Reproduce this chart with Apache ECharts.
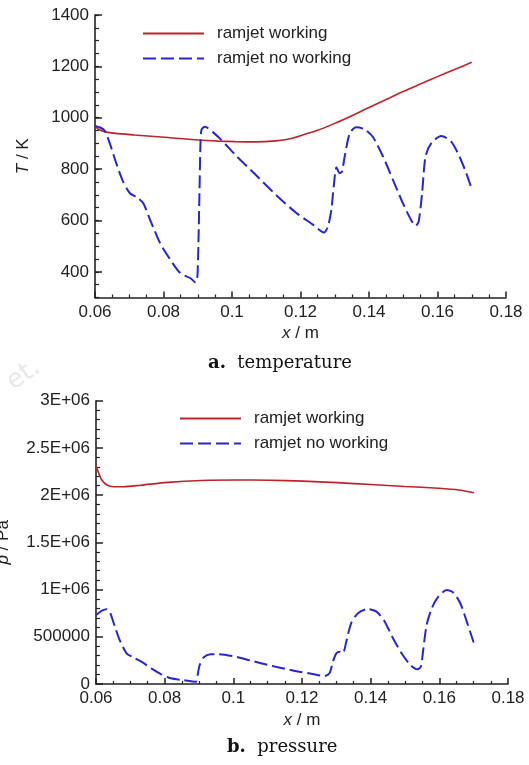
<!DOCTYPE html>
<html><head><meta charset="utf-8">
<script src="https://cdn.jsdelivr.net/npm/echarts@6/dist/echarts.min.js"></script>
<style>html,body{margin:0;padding:0;background:#fff}#c{width:529px;height:765px}</style>
</head><body><div id="c"></div>
<script>
// ---- data ----
const seriesNames = ['ramjet working', 'ramjet no working'];
const tempTicks = [400, 600, 800, 1000, 1200, 1400];
const presTicks = [0, 500000, 1000000, 1500000, 2000000, 2500000, 3000000];
const presTickLabels = ['0', '500000', '1E+06', '1.5E+06', '2E+06', '2.5E+06', '3E+06'];

const tempWorking = [
  [0.0600, 968], [0.0610, 955], [0.0630, 945], [0.0660, 939], [0.0715, 933], [0.0813, 923],
  [0.0902, 913], [0.0960, 909], [0.1010, 907], [0.1069, 906], [0.1128, 910], [0.1170, 918],
  [0.1200, 930], [0.1250, 951], [0.1300, 978], [0.1350, 1008], [0.1400, 1040], [0.1450, 1071],
  [0.1500, 1102], [0.1550, 1131], [0.1600, 1160], [0.1650, 1188], [0.1700, 1216]
];
const tempNoWorking = [
  [0.0600, 968], [0.0615, 962], [0.0628, 950], [0.0643, 901], [0.0662, 823], [0.0682, 751],
  [0.0702, 706], [0.0721, 691], [0.0741, 667], [0.0761, 602], [0.0790, 512], [0.0820, 447],
  [0.0849, 395], [0.0879, 375], [0.0894, 358], [0.0899, 382], [0.0902, 512], [0.0905, 706],
  [0.0908, 901], [0.0911, 953], [0.0921, 965], [0.0945, 943], [0.0970, 912], [0.1010, 855],
  [0.1069, 778], [0.1128, 700], [0.1187, 630], [0.1237, 583], [0.1268, 553], [0.1280, 576],
  [0.1290, 641], [0.1297, 732], [0.1305, 807], [0.1314, 784], [0.1321, 790], [0.1329, 849],
  [0.1344, 940], [0.1363, 963], [0.1387, 955], [0.1411, 926], [0.1441, 849], [0.1470, 758],
  [0.1499, 667], [0.1523, 602], [0.1536, 579], [0.1545, 596], [0.1555, 706], [0.1565, 849],
  [0.1582, 901], [0.1611, 929], [0.1640, 907], [0.1664, 849], [0.1684, 784], [0.1701, 719]
];
const presWorking = [
  [0.0600, 2310000], [0.0602, 2290000], [0.0607, 2240000], [0.0617, 2160000], [0.0632, 2107000],
  [0.0651, 2089000], [0.0681, 2089000], [0.0730, 2105000], [0.0809, 2135000], [0.0908, 2155000],
  [0.1006, 2160000], [0.1105, 2158000], [0.1203, 2148000], [0.1302, 2132000], [0.1401, 2112000],
  [0.1499, 2092000], [0.1598, 2073000], [0.1657, 2055000], [0.1701, 2025000]
];
const presNoWorking = [
  [0.0600, 730000], [0.0607, 750000], [0.0616, 775000], [0.0631, 791000], [0.0640, 766000],
  [0.0655, 607000], [0.0669, 466000], [0.0689, 325000], [0.0708, 283000], [0.0732, 236000],
  [0.0761, 166000], [0.0790, 103000], [0.0818, 60000], [0.0852, 42000], [0.0891, 24000],
  [0.0895, 77000], [0.0902, 201000], [0.0914, 283000], [0.0934, 315000], [0.0953, 316000],
  [0.1006, 290000], [0.1056, 243000], [0.1105, 198000], [0.1154, 158000], [0.1192, 130000],
  [0.1231, 106000], [0.1265, 85000], [0.1280, 113000], [0.1290, 236000], [0.1300, 325000],
  [0.1311, 342000], [0.1319, 325000], [0.1329, 448000], [0.1343, 643000], [0.1363, 749000],
  [0.1392, 794000], [0.1417, 766000], [0.1441, 660000], [0.1465, 484000], [0.1490, 325000],
  [0.1514, 209000], [0.1536, 156000], [0.1546, 183000], [0.1553, 360000], [0.1563, 625000],
  [0.1578, 802000], [0.1597, 925000], [0.1622, 996000], [0.1641, 967000], [0.1661, 855000],
  [0.1680, 660000], [0.1700, 440000]
];

// ---- styles ----
const FONT = '"Liberation Sans", Arial, sans-serif';
const INK = '#222';
const RED = '#c0222a';
const BLUE = '#2626d2';
const axisLine = { show: true, lineStyle: { color: INK, width: 1.6 } };
const nameStyle = { color: INK, fontFamily: FONT, fontSize: 17,
  rich: { i: { fontStyle: 'italic', fontFamily: FONT, fontSize: 17, color: INK } } };

function xAxis(gridIndex, gap) {
  return {
    type: 'value', gridIndex, min: 0.06, max: 0.18, interval: 0.02,
    axisLine, splitLine: { show: false },
    axisTick: { show: true, inside: true, length: 6, lineStyle: { color: INK, width: 1.5 } },
    minorTick: { show: true, splitNumber: 4, length: 3, lineStyle: { color: INK, width: 1.2 } },
    axisLabel: { color: INK, fontFamily: FONT, fontSize: 17, margin: 6,
      formatter: v => String(parseFloat(v.toFixed(2))) },
    name: '{i|x} / m', nameLocation: 'middle', nameGap: gap, nameTextStyle: nameStyle
  };
}

function legend(left, top) {
  return { left, top, orient: 'vertical', itemWidth: 61, itemHeight: 17, itemGap: 8,
    data: seriesNames, selectedMode: false,
    itemStyle: { opacity: 0, borderWidth: 0 },
    textStyle: { color: INK, fontFamily: FONT, fontSize: 17, padding: [0, 0, 0, 8] } };
}

function line(name, xi, yi, data, color, dashed) {
  return { name, type: 'line', xAxisIndex: xi, yAxisIndex: yi, data,
    showSymbol: false, symbol: 'none', smooth: 0.25, color,
    lineStyle: dashed ? { color, width: 2, type: [13, 5] } : { color, width: 1.6 } };
}

const option = {
  backgroundColor: '#fff',
  animation: false,
  grid: [
    { left: 95, right: 23, top: 15, height: 282.5, outerBoundsMode: 'none', containLabel: false },
    { left: 96, right: 21, top: 400.7, height: 283.3, outerBoundsMode: 'none', containLabel: false }
  ],
  xAxis: [xAxis(0, 27), xAxis(1, 28)],
  yAxis: [
    { type: 'value', gridIndex: 0, position: 'left', min: 300, max: 1400, interval: 100,
      axisLine, splitLine: { show: false },
      axisTick: { show: true, inside: true, length: 7, customValues: tempTicks, lineStyle: { color: INK, width: 1.5 } },
      axisLabel: { color: INK, fontFamily: FONT, fontSize: 17, margin: 6, customValues: tempTicks,
        formatter: v => String(v) },
      name: '{i|T} / K', nameLocation: 'middle', nameGap: 63, nameTextStyle: nameStyle },
    { type: 'value', gridIndex: 0, position: 'left', offset: 0, min: 300, max: 1400, interval: 50,
      axisLine: { show: false }, splitLine: { show: false },
      axisTick: { show: true, inside: true, length: 4, lineStyle: { color: INK, width: 1.2 } },
      axisLabel: { show: false } },
    { type: 'value', gridIndex: 1, position: 'left', min: 0, max: 3000000, interval: 500000,
      axisLine, splitLine: { show: false },
      axisTick: { show: true, inside: true, length: 7, lineStyle: { color: INK, width: 1.5 } },
      minorTick: { show: true, splitNumber: 5, length: 4, lineStyle: { color: INK, width: 1.2 } },
      axisLabel: { color: INK, fontFamily: FONT, fontSize: 17, margin: 6,
        formatter: v => presTickLabels[presTicks.indexOf(v)] ?? String(v) },
      name: '{i|p} / Pa', nameLocation: 'middle', nameGap: 84, nameTextStyle: nameStyle }
  ],
  legend: [legend(137, 20), legend(174, 405)],
  series: [
    line(seriesNames[0], 0, 0, tempWorking, RED, false),
    line(seriesNames[1], 0, 0, tempNoWorking, BLUE, true),
    line(seriesNames[0], 1, 2, presWorking, RED, false),
    line(seriesNames[1], 1, 2, presNoWorking, BLUE, true)
  ],
  graphic: [
    { type: 'text', left: 208, top: 354,
      style: { text: '{b|a.}  temperature', fill: '#111', font: '18px "DejaVu Serif", serif',
        rich: { b: { fontWeight: 'bold', fontFamily: '"DejaVu Serif", serif', fontSize: 18, fill: '#111' } } } },
    { type: 'text', left: 227, top: 738,
      style: { text: '{b|b.}  pressure', fill: '#111', font: '18px "DejaVu Serif", serif',
        rich: { b: { fontWeight: 'bold', fontFamily: '"DejaVu Serif", serif', fontSize: 18, fill: '#111' } } } },
    { type: 'text', x: 2, y: 374, rotation: 0.6,
      style: { text: 'et.', fill: '#e8e8e8', font: '26px "DejaVu Sans", sans-serif' } }
  ]
};

const chart = echarts.init(document.getElementById('c'), null, { renderer: 'canvas' });
chart.setOption(option);
</script>
</body></html>
